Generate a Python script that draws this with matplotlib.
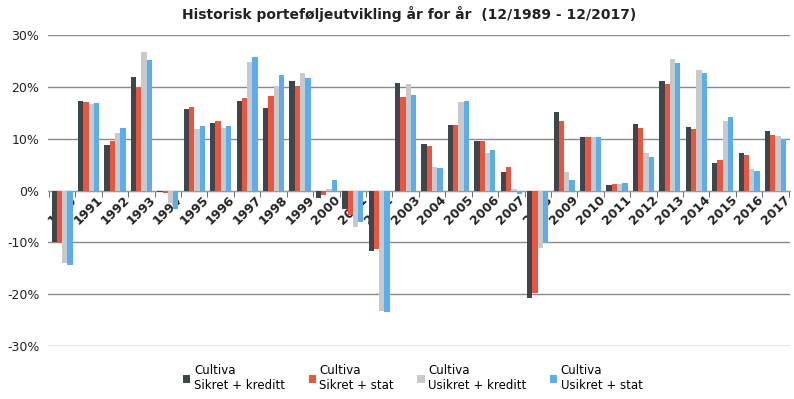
import matplotlib.pyplot as plt
import matplotlib.patches as mpatches
import matplotlib.transforms as mtransforms
from matplotlib.legend_handler import HandlerPatch
import numpy as np
from matplotlib.ticker import FuncFormatter

years = [str(y) for y in range(1990, 2018)]
sikret_kreditt = [-10.0, 17.2, 8.8, 21.9, -0.3, 15.8, 13.1, 17.2, 16.0, 21.2,
                  -1.5, -3.5, -11.6, 20.8, 8.9, 12.6, 9.6, 3.6, -20.8, 15.2,
                  10.4, 1.0, 12.9, 21.2, 12.3, 5.3, 7.2, 11.5]
sikret_stat = [-10.1, 17.1, 9.5, 19.8, -0.5, 16.2, 13.5, 17.8, 18.2, 20.2,
               -0.8, -4.8, -11.3, 18.0, 8.6, 12.6, 9.6, 4.5, -19.8, 13.4,
               10.3, 1.2, 12.1, 20.5, 11.8, 5.8, 6.9, 10.8]
usikret_kreditt = [-13.9, 16.7, 11.1, 26.8, -2.5, 11.8, 12.0, 24.9, 20.1, 22.7,
                   0.3, -7.0, -23.2, 20.6, 4.5, 17.0, 7.3, 0.2, -11.0, 3.5,
                   10.3, 1.2, 7.2, 25.4, 23.3, 13.5, 4.2, 10.5]
usikret_stat = [-14.3, 16.8, 12.0, 25.2, -3.6, 12.4, 12.5, 25.7, 22.3, 21.7,
                2.1, -6.0, -23.4, 18.4, 4.4, 17.2, 7.8, -0.7, -10.2, 2.0,
                10.4, 1.4, 6.5, 24.7, 22.7, 14.1, 3.7, 10.0]

series = [sikret_kreditt, sikret_stat, usikret_kreditt, usikret_stat]
labels = ['Cultiva\nSikret + kreditt', 'Cultiva\nSikret + stat',
          'Cultiva\nUsikret + kreditt', 'Cultiva\nUsikret + stat']
bar_colors = ['#3b474d', '#e9553f', '#c9c9c9', '#5cadef']

fig = plt.figure(figsize=(7.94, 3.99), dpi=100)
ax = fig.add_axes([0.06, 0.133, 0.935, 0.779])

x = np.arange(len(years))
w = 0.2
for i, (vals, lab, col) in enumerate(zip(series, labels, bar_colors)):
    ax.bar(x + (i - 1.5) * w, vals, w, color=col, label=lab, zorder=3)

ax.set_ylim(-30, 30)
ax.set_xlim(-0.55, len(years) - 0.45)
ax.set_yticks(range(-30, 31, 10))
ax.yaxis.set_major_formatter(FuncFormatter(lambda v, p: '{:.0f}%'.format(v)))
ax.grid(axis='y', color='#8a8a8a', lw=1.0, zorder=0)

for s in ['top', 'right', 'left']:
    ax.spines[s].set_visible(False)
ax.spines['bottom'].set_position(('data', 0))
ax.spines['bottom'].set_color('#9a9a9a')

ax.set_xticks(x)
ax.set_xticklabels(years, rotation=45, ha='center', va='top',
                   fontsize=9, fontweight='bold', color='#222222')
shift = mtransforms.ScaledTranslation(7 / 72, 0, fig.dpi_scale_trans)
for t in ax.get_xticklabels():
    t.set_transform(t.get_transform() + shift)
    t.set_zorder(5)
ax.set_xticks(np.arange(-0.5, len(years), 1), minor=True)
ax.tick_params(axis='x', which='major', length=0, pad=2)
ax.tick_params(axis='x', which='minor', length=4, color='#555555')
ax.tick_params(axis='y', length=0, labelsize=9, pad=6, labelcolor='#222222')

fig.suptitle('Historisk porteføljeutvikling år for år  (12/1989 - 12/2017)',
             x=0.515, y=0.985, fontsize=10, fontweight='bold', color='#222222')


def top_square(legend, orig_handle, xdescent, ydescent, width, height, fontsize):
    return mpatches.Rectangle((-xdescent, -ydescent + 0.65 * fontsize), width, height)


fig.legend(loc='lower center', bbox_to_anchor=(0.52, -0.01), ncol=4,
           frameon=False, fontsize=8.5, handlelength=0.6, handleheight=0.6,
           handletextpad=0.3, columnspacing=2.0,
           handler_map={mpatches.Rectangle: HandlerPatch(patch_func=top_square)})

fig.savefig('out.png', dpi=100)
